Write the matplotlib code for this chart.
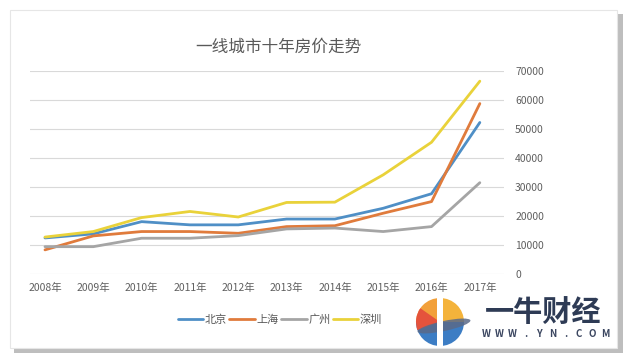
import matplotlib
matplotlib.use("Agg")
import matplotlib.pyplot as plt
from matplotlib.patches import Rectangle, Wedge, Ellipse
import numpy as np

plt.rcParams['font.family'] = ['Noto Sans CJK SC', 'DejaVu Sans']

years = ["2008年", "2009年", "2010年", "2011年", "2012年", "2013年", "2014年", "2015年", "2016年", "2017年"]
beijing = [12500, 13900, 18100, 17000, 17000, 19000, 19000, 22700, 27700, 52200]
shanghai = [8400, 13200, 14700, 14700, 14100, 16400, 16700, 21000, 25000, 58700]
guangzhou = [9500, 9500, 12400, 12400, 13300, 15600, 15900, 14700, 16400, 31500]
shenzhen = [12800, 14700, 19500, 21600, 19700, 24700, 24800, 34200, 45400, 66400]
series_names = ["北京", "上海", "广州", "深圳"]
series_colors = ["#4F8FC6", "#E07B3C", "#A5A5A5", "#E9D23A"]
yticks = [0, 10000, 20000, 30000, 40000, 50000, 60000, 70000]

W, H = 628, 361
fig = plt.figure(figsize=(W / 100, H / 100), dpi=100)
fig.patch.set_facecolor("white")

# background axes in pixel coordinates for the card
bg = fig.add_axes([0, 0, 1, 1], zorder=0)
bg.set_xlim(0, W)
bg.set_ylim(H, 0)
bg.axis("off")
bg.add_patch(Rectangle((14, 14), 609, 339, facecolor="#8a8a8a", edgecolor="none", alpha=0.55))
bg.add_patch(Rectangle((10, 10), 607, 338, facecolor="white", edgecolor="#e6e6e6", linewidth=0.8))

ax = fig.add_axes([30 / W, 1 - 274.3 / H, 474 / W, (274.3 - 70.7) / H], zorder=1)
ax.set_facecolor("none")
x = np.arange(len(years))
for vals, name, col in zip([beijing, shanghai, guangzhou, shenzhen], series_names, series_colors):
    ax.plot(x, vals, color=col, lw=2.0, label=name, solid_capstyle="round")

ax.set_xlim(-0.31, 9.5)
ax.set_ylim(0, 70000)
ax.set_yticks(yticks)
ax.set_yticklabels([str(v) for v in yticks])
ax.yaxis.tick_right()
ax.set_xticks(x)
ax.set_xticklabels(years)
ax.tick_params(axis="both", length=0, labelsize=7.5, labelcolor="#5f5f5f")
ax.tick_params(axis="y", pad=8)
ax.tick_params(axis="x", pad=6)
ax.grid(axis="y", color="#d9d9d9", lw=0.8)
ax.set_axisbelow(True)
for s in ax.spines.values():
    s.set_visible(False)

fig.text(278 / W, 1 - 47 / H, "一线城市十年房价走势", ha="center", va="center", fontsize=12, color="#595959")

leg = fig.legend(loc="center", bbox_to_anchor=(280 / W, 1 - 320 / H), ncol=4, frameon=False,
                 fontsize=8, handlelength=2.3, handletextpad=0.15, columnspacing=0.2,
                 labelcolor="#595959")

# watermark logo in pixel coordinates
lg = fig.add_axes([0, 0, 1, 1], zorder=3)
lg.set_xlim(0, W)
lg.set_ylim(H, 0)
lg.axis("off")
lg.patch.set_alpha(0)
cx, cy, r = 440, 322, 24
for t1, t2, c in [(90, 180, "#F2A03A"), (180, 270, "#3C7DC4"), (270, 360, "#3C7DC4"), (0, 90, "#F4B33B")]:
    lg.add_patch(Wedge((cx, cy), r, -t2, -t1, facecolor=c, edgecolor="none"))
lg.add_patch(Wedge((cx, cy), r, 160, 215, facecolor="#E5533C", edgecolor="none"))
lg.add_patch(Ellipse((cx + 4, cy + 4), 2 * r + 6, 10, angle=-12, facecolor="#5a6a88", edgecolor="none", alpha=0.85))
lg.add_patch(Rectangle((cx - 3, cy - r), 6, 2 * r, facecolor="white", edgecolor="none"))
lg.text(543, 312, "一牛财经", ha="center", va="center", fontsize=21, fontweight="bold", color="#2E3B55")
for i, ch in enumerate("WWW.YN.COM"):
    lg.text(486 + i * 13.3, 334, ch, ha="center", va="center", fontsize=7,
            fontweight="bold", color="#3B4660")

fig.savefig("out.png", dpi=100, facecolor="white")
